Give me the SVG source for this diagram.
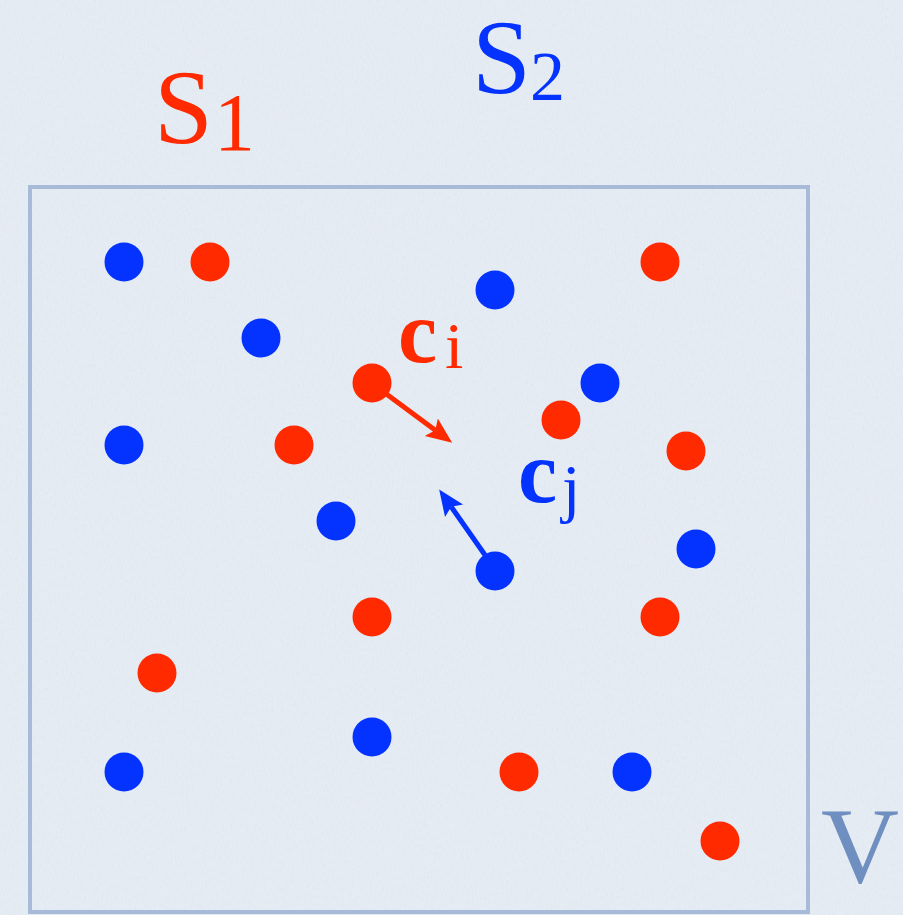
<svg xmlns="http://www.w3.org/2000/svg" width="903" height="915" viewBox="0 0 903 915">
<style>
.r{fill:#ff2a00}
.b{fill:#0433ff}
.t{font-family:"Liberation Serif","DejaVu Serif",serif}
</style>
<defs>
<filter id="tex" x="0" y="0" width="100%" height="100%">
<feTurbulence type="fractalNoise" baseFrequency="0.9 0.25" numOctaves="3" seed="4" result="n"/>
<feColorMatrix type="matrix" values="0 0 0 0 0.55  0 0 0 0 0.6  0 0 0 0 0.68  0 0 0 -0.9 0.55" in="n"/>
</filter>
<marker id="ar" markerUnits="userSpaceOnUse" markerWidth="30" markerHeight="26" refX="5" refY="13" orient="auto" viewBox="0 0 30 26">
<path d="M0,2 L26,13 L0,24 L5,13 Z" fill="#ff2a00"/>
</marker>
<marker id="ab" markerUnits="userSpaceOnUse" markerWidth="30" markerHeight="26" refX="5" refY="13" orient="auto" viewBox="0 0 30 26">
<path d="M0,2 L26,13 L0,24 L5,13 Z" fill="#0433ff"/>
</marker>
</defs>
<rect width="903" height="915" fill="#e6ecf4"/>
<rect width="903" height="915" filter="url(#tex)" opacity="0.35"/>
<g id="region-V">
<rect x="30" y="187" width="778" height="725" fill="none" stroke="#a7bbd9" stroke-width="4"/>
<text class="t" x="821" y="882" font-size="108" fill="#6f8fc0">V</text>
</g>
<g id="label-S1">
<text class="t" fill="#ff2a00"><tspan x="154" y="143" font-size="106">S</tspan><tspan x="214" y="150" font-size="82">1</tspan></text>
</g>
<g id="label-S2">
<text class="t" fill="#0433ff"><tspan x="472" y="93" font-size="106">S</tspan><tspan x="530" y="100" font-size="70">2</tspan></text>
</g>
<g id="points-S2">
<circle class="b" cx="124" cy="262" r="19.5"/>
<circle class="b" cx="495" cy="290" r="19.5"/>
<circle class="b" cx="261" cy="338" r="19.5"/>
<circle class="b" cx="600" cy="383" r="19.5"/>
<circle class="b" cx="124" cy="445" r="19.5"/>
<circle class="b" cx="336" cy="521" r="19.5"/>
<circle class="b" cx="696" cy="549" r="19.5"/>
<circle class="b" cx="372" cy="737" r="19.5"/>
<circle class="b" cx="124" cy="772" r="19.5"/>
<circle class="b" cx="632" cy="772" r="19.5"/>
</g>
<g id="points-S1">
<circle class="r" cx="210" cy="262" r="19.5"/>
<circle class="r" cx="660" cy="262" r="19.5"/>
<circle class="r" cx="561" cy="420" r="19.5"/>
<circle class="r" cx="294" cy="445" r="19.5"/>
<circle class="r" cx="686" cy="451" r="19.5"/>
<circle class="r" cx="372" cy="617" r="19.5"/>
<circle class="r" cx="660" cy="617" r="19.5"/>
<circle class="r" cx="157" cy="673" r="19.5"/>
<circle class="r" cx="519" cy="772" r="19.5"/>
<circle class="r" cx="720" cy="841" r="19.5"/>
</g>
<g id="ci">
<circle class="r" cx="372" cy="383" r="19.5"/>
<text class="t" fill="#ff2a00"><tspan x="398" y="362" font-size="88" font-weight="bold">c</tspan><tspan x="445" y="368" font-size="66">i</tspan></text>
</g>
<g id="cj">
<circle class="b" cx="495" cy="571" r="19.5"/>
<text class="t" fill="#0433ff"><tspan x="518" y="502" font-size="88" font-weight="bold">c</tspan><tspan x="562" y="510" font-size="66">j</tspan></text>
</g>
<g id="connectors">
<line x1="385" y1="393" x2="435.3" y2="430.2" stroke="#ff2a00" stroke-width="5" marker-end="url(#ar)"/>
<line x1="485" y1="555" x2="451.2" y2="506.7" stroke="#0433ff" stroke-width="5" marker-end="url(#ab)"/>
</g>
</svg>
